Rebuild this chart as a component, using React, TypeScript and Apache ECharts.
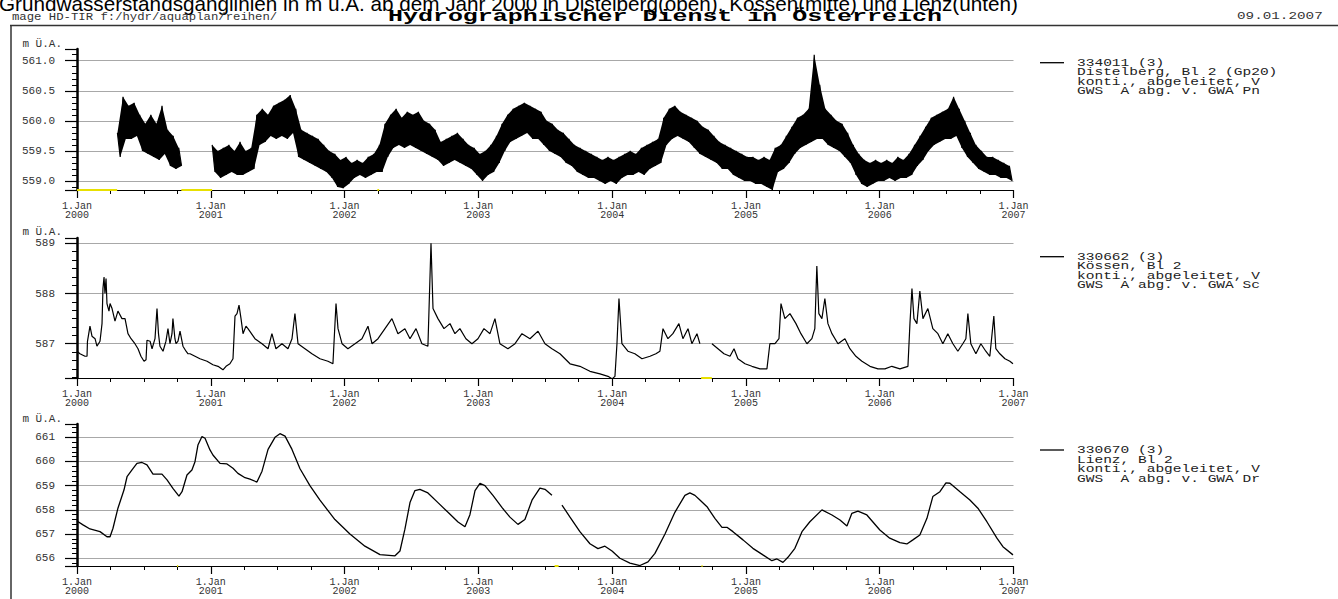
import React, { useEffect, useRef } from "react";
import * as echarts from "echarts";

const TITLE =
  "Grundwasserstandsganglinien in m ü.A. ab dem Jahr 2000 in Distelberg(oben), Kössen(mitte) und Lienz(unten)";
const HEADER_LEFT = "mage HD-TIR f:/hydr/aquaplan/reihen/";
const HEADER_MID = "Hydrographischer Dienst in Österreich";
const HEADER_DATE = "09.01.2007";
const UNIT = "m Ü.A.";

const legend1 = ["334011 (3)", "Distelberg, Bl 2 (Gp20)", "konti., abgeleitet, V", "GWS  A abg. v. GWA Pn"];
const legend2 = ["330662 (3)", "Kössen, Bl 2", "konti., abgeleitet, V", "GWS  A abg. v. GWA Sc"];
const legend3 = ["330670 (3)", "Lienz, Bl 2", "konti., abgeleitet, V", "GWS  A abg. v. GWA Dr"];

// Distelberg: daily noise read as half-month upper / lower envelopes (index = half-months since 1.Jan 2000)
const distStartA = 7;
const distHiA = [559.8, 560.4, 560.25, 560.3, 560.1, 559.95, 560.1, 559.95, 560.25, 559.85, 559.75, 559.55];
const distLoA = [559.4, 559.7, 559.7, 559.75, 559.5, 559.45, 559.4, 559.35, 559.45, 559.25, 559.2, 559.25];
const distStartB = 24;
const distHiB = [
  559.6, 559.5, 559.55, 559.6, 559.5, 559.65, 559.5, 559.55, 560.1, 560.2, 560.1, 560.25,
  560.3, 560.35, 560.43, 560.2, 559.85, 559.8, 559.75, 559.7, 559.6, 559.5, 559.45, 559.35,
  559.4, 559.3, 559.35, 559.3, 559.4, 559.45, 559.6, 559.95, 560.1, 560.2, 560.05, 560.15,
  560.1, 560.15, 560.0, 559.95, 559.85, 559.65, 559.7, 559.75, 559.8, 559.7, 559.6, 559.55,
  559.45, 559.5, 559.6, 559.75, 559.95, 560.1, 560.2, 560.25, 560.3, 560.25, 560.2, 560.15,
  560.0, 559.95, 559.85, 559.8, 559.7, 559.6, 559.55, 559.5, 559.45, 559.4, 559.35, 559.4,
  559.35, 559.4, 559.45, 559.5, 559.45, 559.55, 559.6, 559.65, 559.7, 560.05, 560.2, 560.25,
  560.15, 560.1, 560.05, 560.0, 559.9, 559.85, 559.75, 559.65, 559.6, 559.55, 559.5, 559.45,
  559.4, 559.4, 559.35, 559.4, 559.35, 559.55, 559.6, 559.75, 559.9, 560.05, 560.1, 560.2,
  561.1, 560.6, 560.2, 560.1, 560.0, 559.95, 559.8, 559.6, 559.45, 559.35, 559.3, 559.35,
  559.3, 559.35, 559.3, 559.4, 559.35, 559.45, 559.6, 559.75, 559.9, 560.05, 560.1, 560.15,
  560.2, 560.4, 560.2, 560.0, 559.8, 559.6, 559.5, 559.4, 559.4, 559.35, 559.3, 559.25,
];
const distLoB = [
  559.15, 559.05, 559.1, 559.15, 559.1, 559.1, 559.15, 559.2, 559.6, 559.65, 559.75, 559.7,
  559.75, 559.7, 559.8, 559.4, 559.35, 559.3, 559.25, 559.2, 559.15, 559.05, 558.9, 558.88,
  558.95, 559.05, 559.1, 559.05, 559.1, 559.15, 559.15, 559.4, 559.55, 559.6, 559.55, 559.6,
  559.55, 559.5, 559.45, 559.4, 559.35, 559.25, 559.3, 559.35, 559.3, 559.25, 559.2, 559.1,
  559.0, 559.1, 559.15, 559.3, 559.5, 559.65, 559.7, 559.75, 559.8, 559.7, 559.7, 559.6,
  559.5, 559.45, 559.4, 559.3, 559.25, 559.15, 559.1, 559.05, 559.05, 559.0, 558.95, 559.0,
  558.95, 559.05, 559.1, 559.1, 559.15, 559.1, 559.2, 559.25, 559.3, 559.6, 559.7, 559.75,
  559.7, 559.65, 559.55, 559.45, 559.4, 559.35, 559.3, 559.2, 559.2, 559.1, 559.05, 559.0,
  559.0, 558.95, 558.95, 558.9, 558.85, 559.15, 559.2, 559.3, 559.45, 559.55, 559.6, 559.65,
  559.7, 559.7, 559.6, 559.55, 559.5, 559.4, 559.3, 559.1, 558.95, 558.9, 558.95, 559.0,
  559.0, 559.05, 559.0, 559.05, 559.05, 559.1, 559.25, 559.35, 559.5, 559.6, 559.65, 559.7,
  559.7, 559.75, 559.55, 559.4, 559.3, 559.2, 559.15, 559.1, 559.1, 559.05, 559.05, 559.0,
];

// Kössen (decimal year, m ü.A.)
const kosT = [
  2000.0, 2000.022, 2000.06, 2000.075, 2000.078, 2000.097, 2000.112, 2000.135, 2000.149, 2000.172,
  2000.187, 2000.194, 2000.202, 2000.209, 2000.217, 2000.224, 2000.239, 2000.247, 2000.262, 2000.284,
  2000.306, 2000.336, 2000.359, 2000.381, 2000.404, 2000.433, 2000.456, 2000.478, 2000.501, 2000.516,
  2000.523, 2000.546, 2000.561, 2000.583, 2000.598, 2000.609, 2000.62, 2000.643, 2000.665, 2000.68,
  2000.695, 2000.71, 2000.717, 2000.732, 2000.74, 2000.755, 2000.77, 2000.792, 2000.815, 2000.83,
  2000.845, 2000.882, 2000.919, 2000.972, 2001.016, 2001.054, 2001.091, 2001.114, 2001.143, 2001.166,
  2001.181, 2001.196, 2001.211, 2001.226, 2001.241, 2001.263, 2001.278, 2001.33, 2001.383, 2001.428,
  2001.457, 2001.487, 2001.532, 2001.577, 2001.607, 2001.629, 2001.652, 2001.704, 2001.756, 2001.816,
  2001.876, 2001.913, 2001.936, 2001.951, 2001.981, 2002.025, 2002.078, 2002.13, 2002.175, 2002.205,
  2002.25, 2002.302, 2002.354, 2002.399, 2002.451, 2002.489, 2002.534, 2002.578, 2002.623, 2002.646,
  2002.661, 2002.698, 2002.743, 2002.788, 2002.825, 2002.862, 2002.907, 2002.952, 2002.997, 2003.042,
  2003.087, 2003.124, 2003.161, 2003.221, 2003.274, 2003.326, 2003.386, 2003.446, 2003.498, 2003.55,
  2003.61, 2003.685, 2003.759, 2003.834, 2003.909, 2003.969, 2003.999, 2004.021, 2004.036, 2004.051,
  2004.073, 2004.118, 2004.17, 2004.223, 2004.283, 2004.327, 2004.357, 2004.38, 2004.417, 2004.454,
  2004.499, 2004.529, 2004.567, 2004.596, 2004.634, 2004.656, 2004.7, 2004.746, 2004.791, 2004.836,
  2004.881, 2004.911, 2004.94, 2004.993, 2005.045, 2005.105, 2005.157, 2005.179, 2005.217, 2005.247,
  2005.262, 2005.291, 2005.329, 2005.374, 2005.411, 2005.456, 2005.493, 2005.515, 2005.53, 2005.545,
  2005.568, 2005.59, 2005.613, 2005.643, 2005.688, 2005.74, 2005.777, 2005.822, 2005.867, 2005.927,
  2005.987, 2006.039, 2006.091, 2006.151, 2006.211, 2006.226, 2006.241, 2006.256, 2006.278, 2006.3,
  2006.323, 2006.36, 2006.397, 2006.435, 2006.472, 2006.509, 2006.547, 2006.584, 2006.621, 2006.644,
  2006.659, 2006.681, 2006.719, 2006.756, 2006.793, 2006.823, 2006.853, 2006.868, 2006.898, 2006.936,
  2006.973, 2006.996,
];
const kosV = [
  586.85, 586.8, 586.75, 586.75, 587.04, 587.35, 587.15, 587.1, 586.95, 587.05,
  587.4, 588.1, 588.33, 588.0, 588.3, 587.8, 587.65, 587.8, 587.7, 587.45,
  587.65, 587.5, 587.5, 587.2, 587.1, 587.0, 586.9, 586.75, 586.65, 586.68,
  587.07, 587.05, 586.9, 587.1, 587.7, 587.2, 586.95, 586.85, 587.05, 587.3,
  587.0, 587.2, 587.5, 587.1, 587.0, 587.05, 587.25, 586.95, 586.85, 586.8,
  586.8, 586.75, 586.7, 586.65, 586.58, 586.55, 586.48, 586.55, 586.6, 586.7,
  587.55, 587.6, 587.77, 587.5, 587.2, 587.35, 587.3, 587.1, 587.0, 586.9,
  587.2, 586.9, 587.0, 586.9, 587.1, 587.6, 587.0, 586.9, 586.8, 586.7,
  586.65, 586.6, 587.8, 587.3, 587.0, 586.9, 587.0, 587.1, 587.35, 587.0,
  587.1, 587.3, 587.5, 587.2, 587.3, 587.1, 587.3, 587.0, 586.95, 589.0,
  587.7, 587.5, 587.3, 587.4, 587.2, 587.3, 587.1, 587.0, 587.1, 587.3,
  587.2, 587.5, 587.0, 586.9, 587.0, 587.2, 587.1, 587.25, 587.0, 586.9,
  586.8, 586.6, 586.55, 586.45, 586.4, 586.35, 586.3, 586.35, 587.0, 587.9,
  587.0, 586.85, 586.8, 586.7, 586.75, 586.8, 586.85, 587.3, 587.1, 587.2,
  587.4, 587.1, 587.3, 587.0, 587.2, 587.0, null, 587.0, 586.9, 586.8,
  586.75, 586.9, 586.7, 586.6, 586.55, 586.5, 586.5, 587.0, 587.0, 587.1,
  587.8, 587.5, 587.6, 587.4, 587.2, 587.0, 587.1, 587.3, 588.55, 587.6,
  587.5, 587.9, 587.4, 587.2, 587.0, 587.1, 586.9, 586.75, 586.65, 586.55,
  586.5, 586.5, 586.55, 586.5, 586.55, 587.4, 588.1, 587.5, 587.4, 588.05,
  587.5, 587.7, 587.3, 587.2, 587.0, 587.2, 587.0, 586.85, 587.0, 587.1,
  587.6, 587.0, 586.8, 587.0, 586.85, 586.75, 587.55, 586.9, 586.8, 586.7,
  586.65, 586.6,
];

// Lienz (decimal year, m ü.A.)
const lienzT = [
  2000.0, 2000.045, 2000.097, 2000.172, 2000.224, 2000.247, 2000.269, 2000.306, 2000.351, 2000.374,
  2000.411, 2000.448, 2000.486, 2000.523, 2000.568, 2000.635, 2000.673, 2000.717, 2000.762, 2000.785,
  2000.822, 2000.859, 2000.882, 2000.904, 2000.934, 2000.957, 2000.994, 2001.016, 2001.069, 2001.121,
  2001.166, 2001.203, 2001.256, 2001.293, 2001.345, 2001.383, 2001.428, 2001.48, 2001.517, 2001.555,
  2001.607, 2001.667, 2001.741, 2001.816, 2001.928, 2002.04, 2002.152, 2002.265, 2002.377, 2002.414,
  2002.451, 2002.489, 2002.526, 2002.563, 2002.623, 2002.698, 2002.773, 2002.848, 2002.9, 2002.937,
  2002.975, 2003.012, 2003.049, 2003.109, 2003.176, 2003.236, 2003.296, 2003.348, 2003.401, 2003.46,
  2003.498, 2003.55, 2003.59, 2003.625, 2003.685, 2003.759, 2003.834, 2003.894, 2003.946, 2003.999,
  2004.058, 2004.133, 2004.208, 2004.268, 2004.32, 2004.395, 2004.469, 2004.544, 2004.581, 2004.619,
  2004.656, 2004.709, 2004.768, 2004.821, 2004.858, 2004.903, 2004.978, 2005.052, 2005.127, 2005.194,
  2005.232, 2005.277, 2005.314, 2005.366, 2005.419, 2005.478, 2005.568, 2005.643, 2005.703, 2005.755,
  2005.792, 2005.837, 2005.904, 2006.001, 2006.075, 2006.151, 2006.203, 2006.248, 2006.3, 2006.353,
  2006.397, 2006.45, 2006.495, 2006.525, 2006.6, 2006.674, 2006.734, 2006.801, 2006.876, 2006.921,
  2006.996,
];
const lienzV = [
  657.54, 657.38, 657.21, 657.1, 656.89, 656.89, 657.24, 658.07, 658.82, 659.37,
  659.65, 659.92, 659.96, 659.86, 659.48, 659.48, 659.24, 658.89, 658.57, 658.75,
  659.44, 659.65, 659.99, 660.68, 661.03, 660.96, 660.48, 660.27, 659.92, 659.9,
  659.72, 659.51, 659.33, 659.27, 659.15, 659.6, 660.5, 661.0, 661.15, 661.05,
  660.5, 659.7, 659.0, 658.4, 657.6, 657.0, 656.5, 656.15, 656.1, 656.3,
  657.2, 658.3, 658.8, 658.85, 658.7, 658.3, 657.9, 657.5, 657.3, 657.8,
  658.8, 659.1, 659.0, 658.6, 658.1, 657.7, 657.4, 657.6, 658.4, 658.9,
  658.85, 658.6, null, 658.2, 657.7, 657.1, 656.6, 656.4, 656.5, 656.3,
  656.0, 655.8, 655.7, 655.85, 656.2, 657.0, 657.9, 658.6, 658.7, 658.6,
  658.41, 658.13, 657.65, 657.28, 657.28, 657.1, 656.76, 656.41, 656.14, 655.9,
  655.97, 655.83, 656.04, 656.41, 657.1, 657.51, 658.0, 657.79, 657.58, 657.33,
  657.86, 657.95, 657.79, 657.17, 656.83, 656.65, 656.59, 656.76, 656.96, 657.65,
  658.55, 658.75, 659.12, 659.1, 658.75, 658.41, 658.07, 657.51, 656.83, 656.48,
  656.14,
];

// missing-data marks along the time axis (start, end)
const distGaps = [[2000.0, 2000.3], [2000.78, 2001.01], [2002.245, 2002.258]];
const kosGaps = [[2004.665, 2004.745]];
const lienzGaps = [[2000.748, 2000.756], [2003.57, 2003.6], [2004.668, 2004.676]];

const MONO = '"Liberation Mono", "Courier New", monospace';

function zigzag(start: number, hi: number[], lo: number[]) {
  const out: any[] = [];
  for (let i = 0; i < hi.length; i++) {
    const k = start + i;
    out.push([2000 + (k + 0.25) / 24, hi[i]]);
    out.push([2000 + (k + 0.75) / 24, lo[i]]);
  }
  return out;
}

function pairs(t: number[], v: (number | null)[]) {
  return t.map((x, i) => [x, v[i]]);
}

function gapData(gaps: number[][], yMin: number) {
  const out: any[] = [];
  gaps.forEach(([a, b]) => {
    out.push([a, yMin], [b, yMin], [b, null]);
  });
  return out;
}

// the two measured Distelberg stretches (start index, upper, lower)
const distSegments: [number, number[], number[]][] = [
  [distStartA, distHiA, distLoA],
  [distStartB, distHiB, distLoB],
];

export default function App() {
  const ref = useRef<HTMLDivElement>(null);
  useEffect(() => {
    if (!ref.current) return;
    const chart = echarts.init(ref.current, undefined, { renderer: "svg" });

    const panels = [
      { top: 49, height: 141, min: 558.85, max: 561.195, split: 5, minor: 5, dec: 1, nameGap: 5 },
      { top: 238, height: 140, min: 586.317, max: 589.106, split: 3, minor: 6, dec: 0, nameGap: 6 },
      { top: 424, height: 142, min: 655.68, max: 661.55, split: 6, minor: 5, dec: 0, nameGap: 5 },
    ];

    const grids = panels.map((p) => ({ left: 77, top: p.top, width: 936.5, height: p.height }));

    const xAxes = panels.map((p, i) => ({
      type: "value",
      gridIndex: i,
      min: 2000,
      max: 2007,
      interval: 1,
      axisLine: { show: true, lineStyle: { color: "#000", width: 1.2 } },
      axisTick: { show: true, length: 8, lineStyle: { color: "#000", width: 1.2 } },
      minorTick: { show: true, splitNumber: 4, length: 4, lineStyle: { color: "#000", width: 1 } },
      splitLine: { show: false },
      axisLabel: {
        formatter: (v: number) => "1.Jan\n" + Math.round(v),
        fontFamily: MONO,
        fontSize: 10,
        lineHeight: 9,
        color: "#333",
        margin: 12,
      },
    }));

    const yAxes = panels.map((p, i) => ({
      type: "value",
      gridIndex: i,
      min: p.min,
      max: p.max,
      splitNumber: p.split,
      name: UNIT,
      nameLocation: "end",
      nameGap: p.nameGap,
      nameTextStyle: {
        fontFamily: MONO,
        fontSize: 11,
        color: "#333",
        align: "right",
        verticalAlign: "middle",
        padding: [0, 15, 0, 0],
      },
      axisLine: { show: true, lineStyle: { color: "#000", width: 2.5 } },
      axisTick: { show: true, length: 12, lineStyle: { color: "#000", width: 1.2 } },
      minorTick: { show: true, splitNumber: p.minor, length: 5, lineStyle: { color: "#000", width: 1 } },
      splitLine: { show: true, showMinLine: false, showMaxLine: false, lineStyle: { color: "#a8a8a8", width: 1 } },
      axisLabel: {
        showMinLabel: false,
        showMaxLabel: false,
        formatter: (v: number) => v.toFixed(p.dec),
        fontFamily: MONO,
        fontSize: 11,
        color: "#333",
        margin: 22,
      },
    }));

    const lineSeries = (i: number, data: any[], w: number) => ({
      type: "line",
      xAxisIndex: i,
      yAxisIndex: i,
      data,
      showSymbol: false,
      symbol: "none",
      connectNulls: false,
      lineStyle: { color: "#000", width: w },
      z: 3,
    });
    const gapSeries = (i: number, data: any[]) => ({
      type: "line",
      xAxisIndex: i,
      yAxisIndex: i,
      data,
      showSymbol: false,
      symbol: "none",
      connectNulls: false,
      clip: false,
      lineStyle: { color: "#e8e000", width: 2 },
      z: 4,
    });

    const distData = [
      ...zigzag(distStartA, distHiA, distLoA),
      [2000.9, null],
      ...zigzag(distStartB, distHiB, distLoB),
    ];

    // filled envelope between the read upper and lower values (one polygon per stretch)
    const bandSeries = {
      type: "custom",
      xAxisIndex: 0,
      yAxisIndex: 0,
      data: distSegments.map(([s, hi, lo], idx) => [2000 + (s + 0.25) / 24, lo[0], idx]),
      encode: { x: 0, y: 1 },
      z: 2,
      silent: true,
      renderItem: (params: any, api: any) => {
        const [s, hi, lo] = distSegments[params.dataIndex];
        const pts: number[][] = [];
        hi.forEach((v, i) => pts.push(api.coord([2000 + (s + i + 0.25) / 24, v])));
        for (let i = lo.length - 1; i >= 0; i--) pts.push(api.coord([2000 + (s + i + 0.75) / 24, lo[i]]));
        return { type: "polygon", shape: { points: pts }, style: { fill: "#000", stroke: "none" } };
      },
    };

    const txt = (x: number, y: number, text: string, size: number, sx: number, extra: any = {}) => ({
      type: "text",
      x,
      y,
      scaleX: sx,
      silent: true,
      style: {
        text,
        font: `${extra.bold ? "bold " : ""}${size}px ${extra.family || MONO}`,
        fill: extra.fill || "#222",
        align: "left",
        verticalAlign: extra.va || "middle",
        lineHeight: extra.lh,
      },
    });

    const legendBlock = (lines: string[], y: number) => [
      { type: "line", silent: true, shape: { x1: 1040, y1: y, x2: 1064, y2: y }, style: { stroke: "#000", lineWidth: 1.3 } },
      txt(1077, y - 4.8, lines.join("\n"), 11, 1.32, { va: "top", lh: 9.6 }),
    ];

    chart.setOption({
      animation: false,
      backgroundColor: "#fff",
      grid: grids,
      xAxis: xAxes,
      yAxis: yAxes,
      series: [
        bandSeries,
        lineSeries(0, distData, 1.2),
        lineSeries(1, pairs(kosT, kosV), 1.2),
        lineSeries(2, pairs(lienzT, lienzV), 1.3),
        gapSeries(0, gapData(distGaps, panels[0].min)),
        gapSeries(1, gapData(kosGaps, panels[1].min)),
        gapSeries(2, gapData(lienzGaps, panels[2].min)),
      ],
      graphic: [
        txt(-1, 3.8, TITLE, 20.7, 1, { family: '"Liberation Sans", Arial, sans-serif', fill: "#000" }),
        txt(12, 17, HEADER_LEFT, 10, 1.23, { fill: "#333" }),
        txt(388, 16.5, HEADER_MID, 16, 1.56, { bold: true, fill: "#000" }),
        txt(1237, 17, HEADER_DATE, 10, 1.43, { fill: "#333" }),
        { type: "line", silent: true, shape: { x1: 10, y1: 25.5, x2: 1338, y2: 25.5 }, style: { stroke: "#333", lineWidth: 1.5 } },
        { type: "line", silent: true, shape: { x1: 11, y1: 25, x2: 11, y2: 599 }, style: { stroke: "#333", lineWidth: 1.5 } },
        ...legendBlock(legend1, 62.7),
        ...legendBlock(legend2, 256.7),
        ...legendBlock(legend3, 450),
      ],
    });
    return () => chart.dispose();
  }, []);

  return (
    <div
      ref={ref}
      style={{ position: "absolute", left: 0, top: 0, width: 1338, height: 599, background: "#fff" }}
    />
  );
}
